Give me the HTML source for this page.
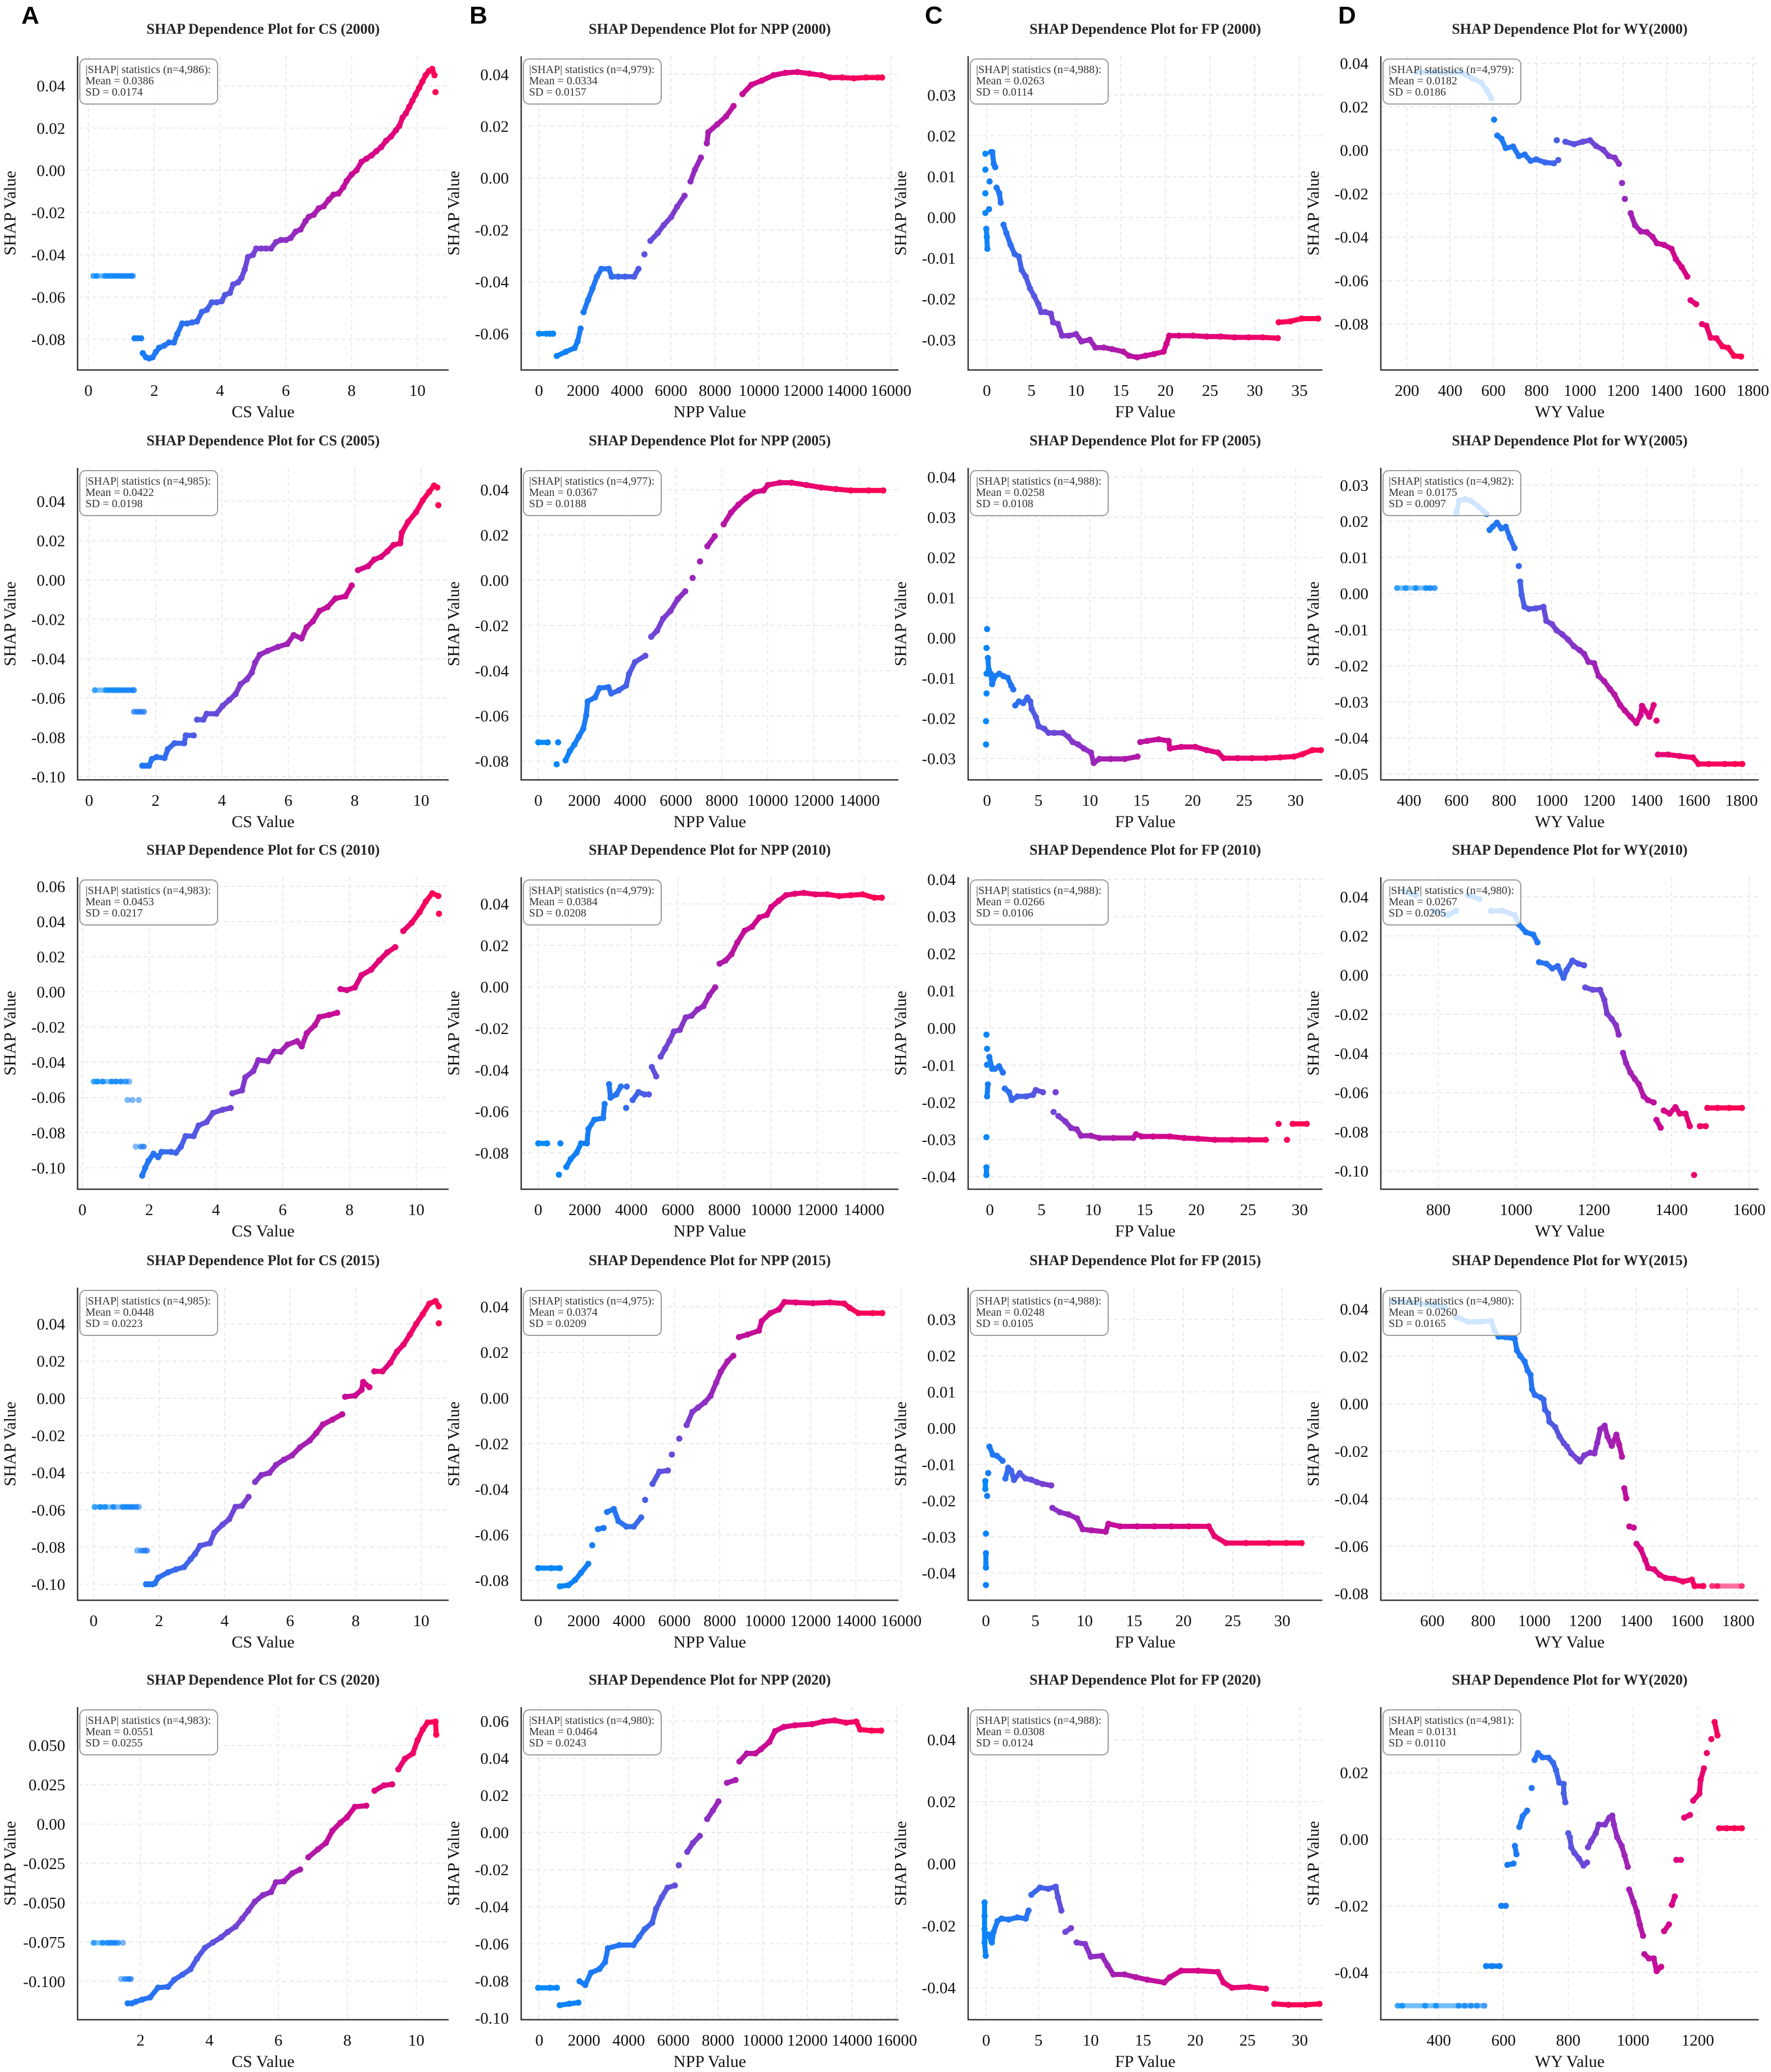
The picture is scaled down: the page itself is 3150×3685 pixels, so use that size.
<!DOCTYPE html>
<html><head><meta charset="utf-8"><title>SHAP Dependence Plots</title>
<style>
html,body{margin:0;padding:0;background:#fff;}
svg{display:block;font-family:"Liberation Serif",serif;}
</style></head>
<body>
<svg id="fig" xmlns="http://www.w3.org/2000/svg" width="3150" height="3685" viewBox="0 0 3150 3685">
<rect x="0" y="0" width="3150" height="3685" fill="#fff"/>
<text x="38" y="42" font-family="Liberation Sans, sans-serif" font-weight="bold" font-size="44" fill="#000">A</text>
<text x="835" y="42" font-family="Liberation Sans, sans-serif" font-weight="bold" font-size="44" fill="#000">B</text>
<text x="1645" y="42" font-family="Liberation Sans, sans-serif" font-weight="bold" font-size="44" fill="#000">C</text>
<text x="2380" y="42" font-family="Liberation Sans, sans-serif" font-weight="bold" font-size="44" fill="#000">D</text>
</svg>
<script>
// ---------------- DATA ----------------
// CS
const cs00LX=[0.15,0.25,0.5,0.6,0.7,0.8,0.9,1.0,1.1,1.2,1.3,1.35];
const cs00LY=[-0.05,-0.05,-0.05,-0.05,-0.05,-0.05,-0.05,-0.05,-0.05,-0.05,-0.05,-0.05];
const cs00X=[1.4,1.5,1.6,1.65,1.75,1.85,1.95,2.05,2.15,2.3,2.45,2.6,2.7,2.85,3.0,3.15,3.3,3.45,3.6,3.75,3.9,4.05,4.15,4.3,4.4,4.55,4.65,4.75,4.85,5.0,5.1,5.25,5.4,5.55,5.7,5.85,6.0,6.15,6.3,6.45,6.6,6.7,6.85,7.0,7.15,7.3,7.45,7.6,7.75,7.85,8.0,8.15,8.3,8.45,8.6,8.75,8.9,9.05,9.2,9.35,9.45,9.55,9.65,9.75,9.85,9.95,10.05,10.15,10.25,10.35,10.45,10.52,10.55];
const cs00Y=[-0.0795,-0.0795,-0.0795,-0.0865,-0.0885,-0.089,-0.0885,-0.086,-0.084,-0.083,-0.0815,-0.0815,-0.0775,-0.0725,-0.0725,-0.072,-0.0715,-0.067,-0.066,-0.0625,-0.0625,-0.062,-0.059,-0.058,-0.054,-0.053,-0.051,-0.047,-0.041,-0.040,-0.037,-0.037,-0.037,-0.037,-0.034,-0.033,-0.033,-0.032,-0.029,-0.028,-0.024,-0.022,-0.021,-0.018,-0.017,-0.014,-0.0115,-0.011,-0.008,-0.005,-0.002,0.000,0.004,0.0055,0.007,0.009,0.011,0.014,0.016,0.019,0.021,0.025,0.027,0.030,0.033,0.036,0.039,0.042,0.045,0.047,0.048,0.045,0.037];

const cs05LX=[0.17,0.5,0.6,0.7,0.8,0.9,1.0,1.1,1.2,1.3,1.35,1.35,1.45,1.55,1.65];
const cs05LY=[-0.056,-0.056,-0.056,-0.056,-0.056,-0.056,-0.056,-0.056,-0.056,-0.056,-0.056,-0.067,-0.067,-0.067,-0.067];
const cs05X=[1.6,1.7,1.8,1.89,2.03,2.27,2.37,2.57,2.86,2.91,3.15,3.25,3.44,3.54,3.83,4.02,4.22,4.41,4.56,4.75,4.9,5.0,5.14,5.38,5.68,5.97,6.16,6.4,6.55,6.74,6.94,7.18,7.42,7.72,7.91,8.1,8.4,8.59,8.79,8.98,9.17,9.37,9.42,9.61,9.85,10.05,10.24,10.39,10.49,10.52];
const cs05Y=[-0.0944,-0.0944,-0.0944,-0.091,-0.090,-0.0905,-0.086,-0.083,-0.083,-0.079,-0.079,-0.071,-0.071,-0.068,-0.068,-0.064,-0.061,-0.058,-0.053,-0.0505,-0.047,-0.042,-0.038,-0.036,-0.034,-0.0325,-0.028,-0.0297,-0.024,-0.021,-0.0157,-0.0138,-0.0094,-0.0083,-0.0028,0.005,0.007,0.0104,0.0117,0.0145,0.0178,0.0186,0.024,0.0296,0.0345,0.0405,0.0447,0.048,0.047,0.038];

const cs10LX=[0.34,0.45,0.61,0.87,1.0,1.15,1.3,1.4,1.35,1.5,1.69,1.6,1.75,1.84];
const cs10LY=[-0.051,-0.051,-0.051,-0.051,-0.051,-0.051,-0.051,-0.051,-0.0615,-0.0615,-0.0615,-0.088,-0.088,-0.088];
const cs10X=[1.79,1.88,1.98,2.13,2.27,2.37,2.66,2.8,2.95,3.09,3.33,3.48,3.72,3.91,4.2,4.44,4.49,4.78,4.88,5.12,5.27,5.56,5.75,5.94,6.14,6.43,6.57,6.72,6.96,7.1,7.39,7.63,7.73,7.92,8.16,8.36,8.65,8.89,9.13,9.37,9.61,9.86,10.1,10.29,10.48,10.66,10.68];
const cs10Y=[-0.1045,-0.100,-0.096,-0.092,-0.094,-0.091,-0.091,-0.0915,-0.088,-0.082,-0.082,-0.076,-0.074,-0.0688,-0.067,-0.066,-0.0577,-0.056,-0.0486,-0.045,-0.0388,-0.0394,-0.034,-0.034,-0.030,-0.028,-0.031,-0.0235,-0.019,-0.0143,-0.0131,-0.0119,0.0016,0.001,0.0025,0.0095,0.0126,0.0178,0.0224,0.0254,0.0346,0.0392,0.0453,0.0514,0.056,0.0545,0.0444];

const cs15LX=[0.03,0.2,0.35,0.6,0.89,1.0,1.1,1.2,1.3,1.38,1.33,1.45,1.55,1.63];
const cs15LY=[-0.0584,-0.0584,-0.0584,-0.0584,-0.0584,-0.0584,-0.0584,-0.0584,-0.0584,-0.0584,-0.0819,-0.0819,-0.0819,-0.0819];
const cs15X=[1.6,1.7,1.8,1.87,1.97,2.27,2.51,2.76,2.96,3.1,3.25,3.55,3.69,3.94,4.14,4.33,4.53,4.73,4.93,5.12,5.37,5.57,5.81,6.06,6.3,6.6,6.8,7.0,7.29,7.59,7.68,7.98,8.18,8.23,8.42,8.57,8.82,9.06,9.26,9.46,9.66,9.85,10.05,10.25,10.44,10.54,10.54];
const cs15Y=[-0.100,-0.100,-0.100,-0.0995,-0.0965,-0.0936,-0.092,-0.0908,-0.0865,-0.0836,-0.0793,-0.0779,-0.0722,-0.0679,-0.065,-0.0584,-0.0578,-0.053,-0.045,-0.0413,-0.0401,-0.0358,-0.033,-0.0307,-0.0264,-0.0227,-0.0187,-0.0141,-0.0115,-0.0086,0.0008,0.0014,0.0045,0.0088,0.006,0.0145,0.0145,0.0191,0.0251,0.0288,0.0343,0.040,0.0452,0.0509,0.0523,0.0494,0.0403];

const cs20LX=[0.64,0.9,1.05,1.15,1.25,1.35,1.49,1.44,1.55,1.65,1.72];
const cs20LY=[-0.0755,-0.0755,-0.0755,-0.0755,-0.0755,-0.0755,-0.0755,-0.0985,-0.0985,-0.0985,-0.0985];
const cs20X=[1.63,1.75,1.86,2.05,2.28,2.51,2.8,2.98,3.22,3.45,3.64,3.87,4.1,4.34,4.53,4.76,4.95,5.13,5.32,5.55,5.79,5.93,6.16,6.4,6.63,6.87,7.15,7.38,7.57,7.8,7.99,8.22,8.55,8.79,9.06,9.3,9.48,9.67,9.9,10.04,10.19,10.33,10.56,10.58];
const cs20Y=[-0.114,-0.114,-0.113,-0.1116,-0.1102,-0.104,-0.1035,-0.099,-0.0957,-0.0923,-0.0855,-0.0787,-0.0753,-0.072,-0.0686,-0.0652,-0.0601,-0.055,-0.0493,-0.0452,-0.0432,-0.037,-0.0364,-0.0313,-0.0289,-0.0211,-0.016,-0.012,-0.0042,0.0009,0.0043,0.011,0.0117,0.0212,0.0246,0.0253,0.0348,0.0415,0.0449,0.0534,0.0602,0.0646,0.0652,0.0568];

// NPP
const npp00X=[0,340,500,640,810,1215,1620,1755,1890,2025,2228,2430,2633,2836,3173,3308,3600,3916,4321,4523,4793,5063,5401,5671,6009,6279,6616,6886,7089,7359,7629,7696,8101,8506,8844,9249,9654,10127,10667,11207,11748,12288,12828,13233,13773,14313,14853,15393,15596];
const npp00Y=[-0.06,-0.06,-0.06,-0.06,-0.0686,-0.067,-0.0655,-0.063,-0.058,-0.0517,-0.047,-0.0426,-0.038,-0.035,-0.035,-0.038,-0.038,-0.038,-0.038,-0.035,-0.0294,-0.0242,-0.0212,-0.0181,-0.015,-0.011,-0.0068,-0.0013,0.0033,0.0079,0.0134,0.0177,0.0207,0.0238,0.0278,0.0324,0.036,0.0376,0.0397,0.0406,0.0409,0.0403,0.0397,0.0388,0.0388,0.0385,0.0388,0.0388,0.0388];

const npp05X=[0,412,863,799,1186,1379,1572,1765,1959,2088,2152,2474,2668,3054,3183,3505,3827,3956,4214,4665,4923,5180,5438,5760,6082,6405,6727,7049,7371,7693,8080,8402,8724,9046,9433,9820,10013,10528,11044,11688,12332,12977,13621,14394,15039];
const npp05Y=[-0.0717,-0.0717,-0.0717,-0.0814,-0.0797,-0.0755,-0.0727,-0.0692,-0.0657,-0.0598,-0.0536,-0.0518,-0.0477,-0.0473,-0.0501,-0.0487,-0.0466,-0.0414,-0.0362,-0.0334,-0.025,-0.0223,-0.017,-0.0136,-0.0083,-0.0049,0.001,0.0083,0.015,0.0195,0.0247,0.0299,0.0334,0.0362,0.039,0.0397,0.0421,0.0431,0.0431,0.0421,0.041,0.0403,0.0397,0.0397,0.0397];

const npp10X=[0,380,950,887,1204,1394,1648,1838,2091,2155,2408,2788,2852,3042,3105,3359,3549,3802,3777,4056,4309,4563,4753,4880,5070,5260,5450,5640,5830,6084,6337,6591,6844,7098,7351,7605,7795,8048,8302,8555,8872,9189,9506,9823,10013,10330,10646,11027,11407,11914,12421,12928,13435,13942,14449,14766];
const npp10Y=[-0.0754,-0.0754,-0.0754,-0.0905,-0.0868,-0.083,-0.0799,-0.0754,-0.0754,-0.0685,-0.064,-0.0632,-0.0564,-0.0469,-0.0534,-0.0518,-0.048,-0.048,-0.0583,-0.0545,-0.0507,-0.0518,-0.0518,-0.0386,-0.0431,-0.0336,-0.0298,-0.026,-0.0215,-0.0207,-0.0147,-0.0139,-0.0109,-0.0093,-0.004,-0.0002,0.0112,0.0127,0.0157,0.0214,0.0271,0.029,0.0335,0.0347,0.0385,0.0415,0.0442,0.0449,0.0453,0.0446,0.0446,0.0438,0.0442,0.0446,0.043,0.043];

const npp15X=[0,576,952,952,1328,1629,1880,2206,2381,2632,2882,3033,3333,3534,3885,4211,4536,4712,5038,5338,5714,5890,6216,6541,6792,7043,7343,7594,7845,8045,8346,8596,8847,9223,9724,9850,10226,10602,10852,11353,12105,12857,13484,13734,14110,14737,15163];
const npp15Y=[-0.0746,-0.0746,-0.0746,-0.0826,-0.0821,-0.0798,-0.0767,-0.0727,-0.0646,-0.0575,-0.057,-0.050,-0.0487,-0.054,-0.0564,-0.0564,-0.0524,-0.0447,-0.0377,-0.0323,-0.0318,-0.0248,-0.0178,-0.0119,-0.0061,-0.0042,-0.0019,0.0009,0.0068,0.0115,0.0161,0.0185,0.0267,0.0278,0.0295,0.0337,0.0372,0.0388,0.0421,0.0419,0.0416,0.0419,0.0414,0.0395,0.0372,0.0372,0.0372];

const npp20X=[-51,482,787,914,1345,1751,1802,2056,2310,2690,2944,3071,3579,4213,4467,4721,5051,5228,5482,5736,6066,6244,6624,6878,7183,7513,7767,8020,8401,8782,8959,9289,9670,9924,10305,10558,10939,11447,12208,12716,13223,13731,14188,14365,14873,15305];
const npp20Y=[-0.0837,-0.0837,-0.0837,-0.0931,-0.0923,-0.0917,-0.0802,-0.0822,-0.0756,-0.0736,-0.0699,-0.0624,-0.0607,-0.0607,-0.0564,-0.0521,-0.0487,-0.0412,-0.0349,-0.0298,-0.0286,-0.0177,-0.0105,-0.0057,-0.0019,0.0072,0.0118,0.0167,0.0267,0.0282,0.0382,0.0425,0.0425,0.0448,0.0488,0.0546,0.0568,0.0577,0.0583,0.0597,0.0603,0.0591,0.0597,0.0554,0.0548,0.0548];

// FP
const fp00X=[-0.16,-0.16,-0.16,-0.16,-0.06,0,0.06,0.25,0.31,0.47,0.62,0.78,0.94,1.09,1.4,1.56,1.87,2.18,2.65,3.12,3.58,3.9,4.36,4.83,5.3,5.77,6.08,6.55,7.17,7.42,7.95,8.42,9.2,9.98,10.6,11.53,12.16,13.09,14.03,15.27,15.9,16.83,17.77,18.7,19.79,20.11,20.42,21.51,23.07,24.63,26.18,27.74,29.3,30.86,32.57,32.67,33.98,35.22,37.09];
const fp00Y=[0.0156,0.0117,0.0059,0.0011,-0.0028,-0.0048,-0.0077,0.002,0.0088,0.016,0.016,0.0131,0.0123,0.0073,0.0059,0.0036,-0.0018,-0.0038,-0.0067,-0.009,-0.0096,-0.0129,-0.0145,-0.0174,-0.0193,-0.0213,-0.0232,-0.0232,-0.0236,-0.0257,-0.0261,-0.029,-0.029,-0.0286,-0.0304,-0.030,-0.0319,-0.0319,-0.0323,-0.0329,-0.0339,-0.0343,-0.0339,-0.0335,-0.0329,-0.031,-0.029,-0.029,-0.029,-0.0292,-0.0292,-0.0294,-0.0294,-0.0294,-0.0296,-0.0257,-0.0255,-0.0248,-0.0248];

const fp05X=[0,-0.05,-0.05,-0.05,-0.1,-0.1,0.08,0.16,0.36,0.49,0.77,1.18,1.59,2.0,2.36,2.55,2.74,3.1,3.51,3.92,4.2,4.34,4.75,5.02,5.57,5.98,6.53,7.35,7.9,8.32,8.86,9.41,10.1,10.37,10.92,12.02,13.39,14.63,14.9,15.59,16.68,17.65,17.78,18.88,20.25,21.35,22.45,23.0,24.37,25.74,27.11,28.49,29.86,30.68,31.64,32.46];
const fp05Y=[0.0022,-0.0025,-0.0089,-0.0138,-0.0207,-0.0265,-0.005,-0.0079,-0.0089,-0.0115,-0.0095,-0.0089,-0.0095,-0.0099,-0.0119,-0.0128,-0.0168,-0.0158,-0.0162,-0.0148,-0.0158,-0.0177,-0.0197,-0.022,-0.0226,-0.0236,-0.0236,-0.0236,-0.0246,-0.0259,-0.0265,-0.0275,-0.0285,-0.0311,-0.0301,-0.0301,-0.0301,-0.0295,-0.0259,-0.0256,-0.0252,-0.0256,-0.0275,-0.0271,-0.0271,-0.0279,-0.0285,-0.0299,-0.0299,-0.0299,-0.0299,-0.0297,-0.0295,-0.0289,-0.0279,-0.0279];

const fp10X=[-0.33,-0.27,-0.27,-0.19,-0.27,-0.33,-0.33,-0.33,-0.05,0.22,0.49,0.9,1.26,1.45,1.86,2.13,2.68,3.5,4.18,4.45,5.14,6.37,6.17,6.64,7.32,7.87,8.42,8.83,9.78,10.6,11.97,13.88,14.15,14.7,15.79,17.43,18.8,20.16,21.8,23.44,25.08,26.72,28.77,27.95,29.32,30.68];
const fp10Y=[-0.0018,-0.0056,-0.0099,-0.0152,-0.0184,-0.0294,-0.0375,-0.0396,-0.0078,-0.011,-0.011,-0.0103,-0.012,-0.0163,-0.0173,-0.0194,-0.0184,-0.0184,-0.018,-0.0167,-0.0173,-0.0173,-0.0226,-0.0237,-0.0252,-0.0269,-0.0273,-0.029,-0.029,-0.0296,-0.0296,-0.0296,-0.0286,-0.0292,-0.0292,-0.0292,-0.0296,-0.0298,-0.0301,-0.0301,-0.0301,-0.0301,-0.0301,-0.0258,-0.0258,-0.0258];

const fp15X=[-0.06,-0.06,0.12,0.23,0,0,0,0,0.35,0.7,1.1,1.68,2.26,1.97,2.55,2.84,3.42,4.0,4.58,5.16,5.74,6.61,6.73,7.48,8.35,9.22,9.8,10.67,12.12,12.41,13.57,15.31,17.05,18.79,20.53,22.56,23.14,24.3,26.33,28.65,30.39,31.96];
const fp15Y=[-0.0146,-0.0168,-0.0187,-0.0124,-0.0291,-0.0345,-0.0385,-0.0433,-0.0051,-0.0073,-0.0076,-0.009,-0.0109,-0.0139,-0.0117,-0.0143,-0.0124,-0.0139,-0.0142,-0.0149,-0.0154,-0.0158,-0.022,-0.0232,-0.0238,-0.0249,-0.0279,-0.0282,-0.0286,-0.0264,-0.0271,-0.0271,-0.0271,-0.0271,-0.0271,-0.0271,-0.0298,-0.0317,-0.0317,-0.0317,-0.0317,-0.0317];

const fp20X=[-0.16,-0.16,-0.16,-0.16,-0.05,0.16,0.54,0.7,1.08,1.46,2.16,2.97,3.78,4.05,4.32,5.14,5.95,6.65,6.86,7.19,7.57,8.11,8.65,9.46,10.0,11.08,11.62,12.16,13.24,14.32,15.41,17.03,17.57,18.65,20.27,22.16,22.7,23.51,25.14,26.76,27.57,28.92,30.54,31.89];
const fp20Y=[-0.0125,-0.0168,-0.0211,-0.0254,-0.0297,-0.0228,-0.0254,-0.022,-0.0185,-0.0177,-0.018,-0.0173,-0.0177,-0.0151,-0.010,-0.0077,-0.0081,-0.0074,-0.0108,-0.0151,-0.022,-0.0208,-0.0254,-0.0259,-0.030,-0.0297,-0.0328,-0.0357,-0.0357,-0.0366,-0.0374,-0.0383,-0.0366,-0.0345,-0.0345,-0.0349,-0.0383,-0.040,-0.0397,-0.0403,-0.0452,-0.0455,-0.0455,-0.0452];

// WY
const wy00X=[247,314,382,449,503,543,570,590,603,618,637,657,691,718,745,772,798,839,880,900,893,933,973,1013,1047,1074,1108,1134,1161,1181,1195,1208,1235,1255,1282,1309,1336,1356,1390,1424,1444,1471,1497,1512,1538,1565,1585,1605,1632,1659,1686,1713,1746];
const wy00Y=[0.036,0.036,0.0356,0.036,0.0331,0.0312,0.0276,0.024,0.0141,0.0068,0.0053,0.001,0.0017,-0.0027,-0.002,-0.0049,-0.0042,-0.0056,-0.006,-0.0045,0.0046,0.0039,0.0028,0.0039,0.0046,0.002,0.0002,-0.0027,-0.0034,-0.0063,-0.0151,-0.0224,-0.029,-0.0345,-0.0374,-0.0377,-0.0399,-0.0428,-0.0436,-0.0454,-0.0501,-0.0538,-0.0582,-0.0691,-0.0709,-0.0801,-0.0808,-0.0863,-0.0866,-0.0903,-0.091,-0.0947,-0.095];

const wy05LX=[349,385,428,471,489,508];
const wy05LY=[0.0015,0.0015,0.0015,0.0015,0.0015,0.0015];
const wy05X=[599,611,636,660,691,727,739,752,770,789,807,825,844,862,868,874,886,905,935,966,978,1002,1021,1045,1070,1094,1118,1137,1155,1179,1198,1222,1247,1265,1289,1308,1332,1357,1375,1381,1412,1430,1442,1448,1491,1540,1595,1619,1662,1729,1772,1803];
const wy05Y=[0.0224,0.0257,0.0261,0.0257,0.0241,0.022,0.0176,0.0185,0.0196,0.018,0.0185,0.0154,0.0126,0.0076,0.0033,-0.0004,-0.0037,-0.0043,-0.0041,-0.0037,-0.0076,-0.0085,-0.0102,-0.0113,-0.0128,-0.0146,-0.0157,-0.0167,-0.0189,-0.0193,-0.0228,-0.0243,-0.0265,-0.028,-0.0309,-0.0324,-0.0341,-0.0359,-0.0337,-0.0311,-0.0341,-0.0309,-0.0352,-0.0446,-0.0446,-0.045,-0.0454,-0.0472,-0.0472,-0.0472,-0.0472,-0.0472];

const wy10X=[712,742,787,824,846,876,906,936,966,996,1007,1025,1044,1055,1059,1078,1093,1107,1122,1130,1145,1160,1175,1178,1197,1216,1227,1234,1246,1257,1264,1275,1283,1294,1305,1316,1328,1339,1354,1361,1372,1380,1395,1410,1421,1436,1447,1458,1473,1488,1492,1518,1548,1581];
const wy10Y=[0.0428,0.0408,0.0328,0.0307,0.0328,0.0408,0.0388,0.0328,0.0328,0.0307,0.0259,0.0219,0.0207,0.0167,0.0066,0.0058,0.0034,0.0046,-0.0014,0.0026,0.0074,0.0058,0.005,-0.0063,-0.0075,-0.0075,-0.0127,-0.0196,-0.0224,-0.0256,-0.0304,-0.0397,-0.0449,-0.0497,-0.0529,-0.0558,-0.0618,-0.0638,-0.065,-0.0739,-0.0779,-0.0691,-0.0707,-0.0674,-0.0707,-0.0707,-0.0771,-0.102,-0.0771,-0.0771,-0.0678,-0.0678,-0.0678,-0.0678];

const wy15LX=[1697,1718,1814];
const wy15LY=[-0.0768,-0.0768,-0.0768];
const wy15X=[444,512,603,649,695,740,786,831,843,860,888,923,932,945,962,974,985,991,1002,1025,1036,1042,1054,1059,1082,1099,1116,1128,1145,1168,1179,1196,1219,1236,1247,1259,1276,1287,1304,1322,1333,1344,1353,1361,1373,1390,1401,1418,1435,1447,1470,1492,1515,1549,1583,1618,1629,1663];
const wy15Y=[0.0434,0.0428,0.0417,0.0406,0.0366,0.0346,0.0346,0.0349,0.0309,0.0283,0.0281,0.0275,0.0225,0.0202,0.0179,0.014,0.0123,0.0062,0.0038,0.0027,0.0018,-0.0024,-0.0041,-0.0075,-0.0098,-0.0138,-0.0166,-0.018,-0.0209,-0.0232,-0.0243,-0.0217,-0.0206,-0.0209,-0.0164,-0.0107,-0.0092,-0.0138,-0.0177,-0.013,-0.0172,-0.0223,-0.0356,-0.0398,-0.0517,-0.0522,-0.059,-0.0613,-0.0658,-0.0692,-0.0698,-0.0721,-0.0734,-0.0738,-0.0749,-0.0741,-0.0768,-0.0768];

const wy20LX=[273,287,358,391,461,480,499,518,541];
const wy20LY=[-0.05,-0.05,-0.05,-0.05,-0.05,-0.05,-0.05,-0.05,-0.05];
const wy20X=[546,565,588,593,607,612,631,635,640,649,659,673,687,696,706,720,739,753,762,772,786,786,791,800,805,809,819,833,847,858,861,871,885,894,913,927,936,941,951,965,974,984,988,1002,1012,1021,1031,1035,1049,1064,1073,1087,1096,1111,1120,1129,1134,1148,1158,1176,1186,1205,1209,1219,1228,1242,1252,1261,1266,1289,1313,1336];
const wy20Y=[-0.0381,-0.0381,-0.0381,-0.020,-0.020,-0.0077,-0.0073,-0.002,-0.0045,0.0037,0.0069,0.0086,0.0154,0.0238,0.0259,0.0246,0.0245,0.023,0.0208,0.017,0.0166,0.0138,0.0111,0.0018,0.0006,-0.0024,-0.0041,-0.0058,-0.0079,-0.007,-0.0024,-0.0005,0.0018,0.0044,0.0044,0.0065,0.0071,0.0044,0.0006,-0.002,-0.0049,-0.0083,-0.0151,-0.0189,-0.0218,-0.0256,-0.029,-0.0345,-0.0358,-0.0358,-0.0396,-0.0383,-0.0276,-0.0256,-0.0197,-0.0172,-0.0062,-0.0062,0.0065,0.0073,0.0116,0.0137,0.0179,0.0213,0.0259,0.0301,0.0352,0.0312,0.0033,0.0033,0.0033,0.0033];

// ---------------- LAYOUT ----------------
const colL=[138,927,1722,2456], colR=[798,1598,2352,3128];
const rowT=[100,832,1560,2290,3036], rowB=[658,1387,2115,2846,3592];

function rng(a,b,s){const r=[];for(let v=a;v<=b+s*1e-6;v+=s)r.push(Math.round(v*10000)/10000);return r;}
function f2(v){return (Math.abs(v)<1e-9?0:v).toFixed(2);}

const panels=[
 {c:0,r:0,name:'cs-2000',title:'SHAP Dependence Plot for CS (2000)',xl:'CS Value',xd:[-0.33,10.95],yd:[-0.0945,0.054],xt:rng(0,10,2),yt:rng(-0.08,0.04,0.02),st:['4,986','0.0386','0.0174'],x:cs00X,y:cs00Y,lx:cs00LX,ly:cs00LY},
 {c:0,r:1,name:'cs-2005',title:'SHAP Dependence Plot for CS (2005)',xl:'CS Value',xd:[-0.35,10.83],yd:[-0.1016,0.057],xt:rng(0,10,2),yt:rng(-0.10,0.04,0.02),st:['4,985','0.0422','0.0198'],x:cs05X,y:cs05Y,lx:cs05LX,ly:cs05LY},
 {c:0,r:2,name:'cs-2010',title:'SHAP Dependence Plot for CS (2010)',xl:'CS Value',xd:[-0.145,10.97],yd:[-0.1122,0.0652],xt:rng(0,10,2),yt:rng(-0.10,0.06,0.02),st:['4,983','0.0453','0.0217'],x:cs10X,y:cs10Y,lx:cs10LX,ly:cs10LY},
 {c:0,r:3,name:'cs-2015',title:'SHAP Dependence Plot for CS (2015)',xl:'CS Value',xd:[-0.49,10.84],yd:[-0.1086,0.0595],xt:rng(0,10,2),yt:rng(-0.10,0.04,0.02),st:['4,985','0.0448','0.0223'],x:cs15X,y:cs15Y,lx:cs15LX,ly:cs15LY},
 {c:0,r:4,name:'cs-2020',title:'SHAP Dependence Plot for CS (2020)',xl:'CS Value',xd:[0.176,10.94],yd:[-0.1244,0.0744],xt:rng(2,10,2),yt:[-0.1,-0.075,-0.05,-0.025,0,0.025,0.05],ytl:['-0.100','-0.075','-0.050','-0.025','0.00','0.025','0.050'],st:['4,983','0.0551','0.0255'],x:cs20X,y:cs20Y,lx:cs20LX,ly:cs20LY},

 {c:1,r:0,name:'npp-2000',title:'SHAP Dependence Plot for NPP (2000)',xl:'NPP Value',xd:[-810,16338],yd:[-0.074,0.047],xt:rng(0,16000,2000),yt:rng(-0.06,0.04,0.02),st:['4,979','0.0334','0.0157'],x:npp00X,y:npp00Y},
 {c:1,r:1,name:'npp-2005',title:'SHAP Dependence Plot for NPP (2005)',xl:'NPP Value',xd:[-747,15700],yd:[-0.0883,0.0497],xt:rng(0,14000,2000),yt:rng(-0.08,0.04,0.02),st:['4,977','0.0367','0.0188'],x:npp05X,y:npp05Y},
 {c:1,r:2,name:'npp-2010',title:'SHAP Dependence Plot for NPP (2010)',xl:'NPP Value',xd:[-735,15480],yd:[-0.0975,0.0529],xt:rng(0,14000,2000),yt:rng(-0.08,0.04,0.02),st:['4,979','0.0384','0.0208'],x:npp10X,y:npp10Y},
 {c:1,r:3,name:'npp-2015',title:'SHAP Dependence Plot for NPP (2015)',xl:'NPP Value',xd:[-752,15875],yd:[-0.0887,0.0484],xt:rng(0,16000,2000),yt:rng(-0.08,0.04,0.02),st:['4,975','0.0374','0.0209'],x:npp15X,y:npp15Y},
 {c:1,r:4,name:'npp-2020',title:'SHAP Dependence Plot for NPP (2020)',xl:'NPP Value',xd:[-812,16076],yd:[-0.1009,0.0675],xt:rng(0,16000,2000),yt:rng(-0.10,0.06,0.02),st:['4,980','0.0464','0.0243'],x:npp20X,y:npp20Y},

 {c:2,r:0,name:'fp-2000',title:'SHAP Dependence Plot for FP (2000)',xl:'FP Value',xd:[-2.09,37.56],yd:[-0.0374,0.0395],xt:rng(0,35,5),yt:rng(-0.03,0.03,0.01),st:['4,988','0.0263','0.0114'],x:fp00X,y:fp00Y},
 {c:2,r:1,name:'fp-2005',title:'SHAP Dependence Plot for FP (2005)',xl:'FP Value',xd:[-1.84,32.6],yd:[-0.0353,0.0423],xt:rng(0,30,5),yt:rng(-0.03,0.04,0.01),st:['4,988','0.0258','0.0108'],x:fp05X,y:fp05Y},
 {c:2,r:2,name:'fp-2010',title:'SHAP Dependence Plot for FP (2010)',xl:'FP Value',xd:[-2.1,32.19],yd:[-0.0434,0.0406],xt:rng(0,30,5),yt:rng(-0.04,0.04,0.01),st:['4,988','0.0266','0.0106'],x:fp10X,y:fp10Y},
 {c:2,r:3,name:'fp-2015',title:'SHAP Dependence Plot for FP (2015)',xl:'FP Value',xd:[-1.8,34.06],yd:[-0.0475,0.0388],xt:rng(0,30,5),yt:rng(-0.04,0.03,0.01),st:['4,988','0.0248','0.0105'],x:fp15X,y:fp15Y},
 {c:2,r:4,name:'fp-2020',title:'SHAP Dependence Plot for FP (2020)',xl:'FP Value',xd:[-1.73,32.16],yd:[-0.0503,0.0505],xt:rng(0,30,5),yt:rng(-0.04,0.04,0.02),st:['4,988','0.0308','0.0124'],x:fp20X,y:fp20Y},

 {c:3,r:0,name:'wy-2000',title:'SHAP Dependence Plot for WY(2000)',xl:'WY Value',xd:[79,1827],yd:[-0.1012,0.0433],xt:rng(200,1800,200),yt:rng(-0.08,0.04,0.02),st:['4,979','0.0182','0.0186'],x:wy00X,y:wy00Y},
 {c:3,r:1,name:'wy-2005',title:'SHAP Dependence Plot for WY(2005)',xl:'WY Value',xd:[281,1872],yd:[-0.0516,0.0348],xt:rng(400,1800,200),yt:rng(-0.05,0.03,0.01),st:['4,982','0.0175','0.0097'],x:wy05X,y:wy05Y,lx:wy05LX,ly:wy05LY},
 {c:3,r:2,name:'wy-2010',title:'SHAP Dependence Plot for WY(2010)',xl:'WY Value',xd:[652,1624],yd:[-0.1093,0.050],xt:rng(800,1600,200),yt:rng(-0.10,0.04,0.02),st:['4,980','0.0267','0.0205'],x:wy10X,y:wy10Y},
 {c:3,r:3,name:'wy-2015',title:'SHAP Dependence Plot for WY(2015)',xl:'WY Value',xd:[398,1880],yd:[-0.0828,0.049],xt:rng(600,1800,200),yt:rng(-0.08,0.04,0.02),st:['4,980','0.0260','0.0165'],x:wy15X,y:wy15Y,lx:wy15LX,ly:wy15LY},
 {c:3,r:4,name:'wy-2020',title:'SHAP Dependence Plot for WY(2020)',xl:'WY Value',xd:[221,1388],yd:[-0.0542,0.0397],xt:rng(400,1200,200),yt:rng(-0.04,0.02,0.02),st:['4,981','0.0131','0.0110'],x:wy20X,y:wy20Y,lx:wy20LX,ly:wy20LY}
];

// ---------------- RENDER ----------------
const NS='http://www.w3.org/2000/svg';
const svg=document.getElementById('fig');
function mk(tag,attrs,parent){const e=document.createElementNS(NS,tag);for(const k in attrs)e.setAttribute(k,attrs[k]);(parent||svg).appendChild(e);return e;}
const stops=[[0,[0,138,251]],[0.3,[40,115,242]],[0.45,[100,78,220]],[0.6,[150,40,190]],[0.78,[210,5,140]],[1,[255,0,82]]];
function cmap(t){t=Math.max(0,Math.min(1,t));for(let i=1;i<stops.length;i++){if(t<=stops[i][0]){const a=stops[i-1],b=stops[i];const u=(t-a[0])/(b[0]-a[0]);const c=a[1].map((v,k)=>Math.round(v+(b[1][k]-v)*u));return 'rgb('+c.join(',')+')';}}return 'rgb(255,0,82)';}

panels.forEach(p=>{
  const L=colL[p.c],R=colR[p.c],T=rowT[p.r],B=rowB[p.r];
  const sx=v=>L+(v-p.xd[0])/(p.xd[1]-p.xd[0])*(R-L);
  const sy=v=>B-(v-p.yd[0])/(p.yd[1]-p.yd[0])*(B-T);
  const g=mk('g',{});
  
  
  const t=mk('text',{x:(L+R)/2,y:T-40,'text-anchor':'middle','font-size':26,'font-weight':'bold',fill:'#262626'},g);
  t.textContent=p.title;
  
  
  const grid=mk('g',{stroke:'#e3e3e3','stroke-width':1.5,'stroke-dasharray':'7,6'},g);
  
  
  p.xt.forEach(v=>{mk('line',{x1:sx(v),x2:sx(v),y1:T,y2:B},grid);});
  p.yt.forEach(v=>{mk('line',{x1:L,x2:R,y1:sy(v),y2:sy(v)},grid);});
  p.xt.forEach(v=>{
    const e=mk('text',{x:sx(v),y:B+46,'text-anchor':'middle','font-size':29,fill:'#111'},g);
    e.textContent=String(v);
    
    
  });
  p.yt.forEach((v,i)=>{
    const e=mk('text',{x:L-22,y:sy(v)+10,'text-anchor':'end','font-size':29,fill:'#111'},g);
    e.textContent=p.ytl?p.ytl[i]:f2(v);
    
    
  });
  const xl=mk('text',{x:(L+R)/2,y:B+84,'text-anchor':'middle','font-size':30,fill:'#111'},g);
  xl.textContent=p.xl;
  
  
  const yy=(T+B)/2;
  const yl=mk('text',{x:L-120,y:yy,'text-anchor':'middle','font-size':30,fill:'#111',transform:'rotate(-90 '+(L-120)+' '+yy+')','dominant-baseline':'central'},g);
  yl.textContent='SHAP Value';
  
  
  const allX=p.x.concat(p.lx||[]).slice().sort((a,b)=>a-b);
  const n=allX.length;
  const col=v=>{let lo=0,eq=0;for(const a of allX){if(a<v)lo++;else if(a===v)eq++;}return cmap((lo+eq/2)/(n-1));};
  const pts=mk('g',{},g);
  
  
  function drawSeries(xs,ys,op){
    const m=Math.min(xs.length,ys.length);
    const arr=[];for(let i=0;i<m;i++)arr.push([xs[i],ys[i]]);
    arr.sort((a,b)=>a[0]-b[0]);
    for(let i=1;i<arr.length;i++){
      const x1=sx(arr[i-1][0]),y1=sy(arr[i-1][1]),x2=sx(arr[i][0]),y2=sy(arr[i][1]);
      const d=Math.hypot(x2-x1,y2-y1);
      if(d<26 || (Math.abs(y2-y1)<8 && Math.abs(x2-x1)<80)){
        const s=mk('line',{x1:x1,y1:y1,x2:x2,y2:y2,stroke:col((arr[i-1][0]+arr[i][0])/2),'stroke-width':9,'stroke-linecap':'round',opacity:op},pts);
        
        
      }
    }
    arr.forEach(d=>{
      const c=mk('circle',{cx:sx(d[0]),cy:sy(d[1]),r:5.5,fill:col(d[0]),opacity:op},pts);
      
      
    });
  }
  if(p.lx)drawSeries(p.lx,p.ly,0.55);
  drawSeries(p.x,p.y,1);
  const sp=mk('path',{d:'M'+L+' '+(T)+' L'+L+' '+B+' L'+R+' '+B,fill:'none',stroke:'#333','stroke-width':2.5},g);
  
  
  const box=mk('rect',{x:L+4,y:T+5,width:245,height:80,rx:10,fill:'rgba(255,255,255,0.8)',stroke:'#9a9a9a','stroke-width':2},g);
  
  
  const lines=['|SHAP| statistics (n='+p.st[0]+'):','Mean = '+p.st[1],'SD = '+p.st[2]];
  lines.forEach((s,i)=>{
    const e=mk('text',{x:L+14,y:T+30+i*20,'font-size':20,fill:'#333'},g);
    e.textContent=s;
    
    
  });
});
</script>
</body></html>
